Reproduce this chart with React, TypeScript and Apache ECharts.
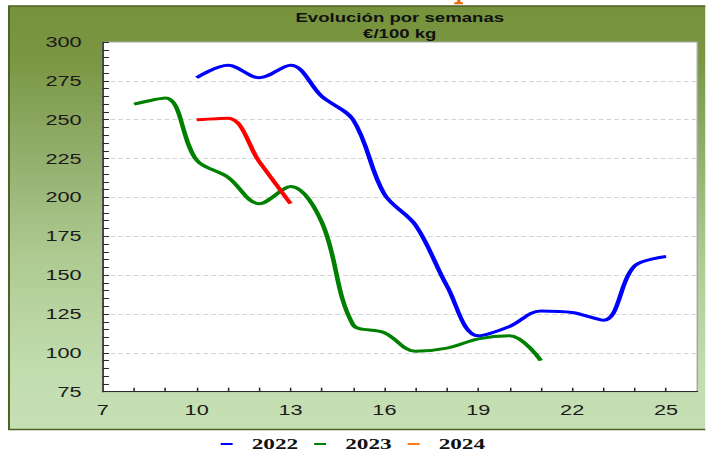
import React, { useEffect, useRef } from "react";
import * as echarts from "echarts";

// ---- data ----
const weeks2022 = [10, 11, 12, 13, 14, 15, 16, 17, 18, 19, 20, 21, 22, 23, 24, 25];
const values2022 = [277, 285, 277, 285, 265, 250, 202, 182, 143, 111, 117, 127, 126, 121, 156, 162];
const weeks2023 = [8, 9, 10, 11, 12, 13, 14, 15, 16, 17, 18, 19, 20, 21];
const values2023 = [260, 264, 224, 213, 196, 207, 184, 118, 113, 101, 103, 109, 111, 95];
const weeks2024 = [10, 11, 12, 13];
const values2024 = [250, 251, 223, 196];
const seriesNames = ["2022", "2023", "2024"];
const xLabelValues = [7, 10, 13, 16, 19, 22, 25];
const xTickValues = [8, 9, 10, 11, 12, 13, 14, 15, 16, 17, 18, 19, 20, 21, 22, 23, 24, 25];
const xMin = 7;
const xMax = 26;
const yMin = 75;
const yMax = 300;
const yStep = 25;
const titleLines = ["Evolución por semanas", "€/100 kg"];

// the reference is horizontally stretched
const S = 1.55;
const W = 706 / S;
const H = 452;

const pairs = (xs: number[], ys: number[]) => xs.map((x, i) => [x, ys[i]]);

export default function App() {
  const ref = useRef<HTMLDivElement>(null);
  useEffect(() => {
    if (!ref.current) return;
    const chart = echarts.init(ref.current, undefined, { renderer: "svg" });
    const axisColor = "#2a2a2a";
    const labelFont = { fontFamily: "Liberation Sans, Arial, sans-serif", fontSize: 14, color: "#1a1a1a" };
    const lineSeries = (name: string, data: number[][], color: string) => ({
      name,
      type: "line",
      data,
      smooth: 0.35,
      showSymbol: false,
      symbol: "none",
      lineStyle: { color, width: 3 },
      itemStyle: { color },
      z: 3,
    });
    chart.setOption({
      animation: false,
      graphic: [
        {
          type: "polygon",
          z: -20,
          silent: true,
          shape: {
            points: [
              [295, 0],
              [297, 0],
              [297, 2],
              [298.7, 2.6],
              [298.7, 4.3],
              [293, 4.3],
              [293, 2.6],
              [295, 2],
            ],
          },
          style: { fill: "#e46c0a" },
        },
        {
          type: "rect",
          z: -10,
          silent: true,
          shape: { x: 5.8, y: 6, width: 470, height: 423.5 },
          style: {
            fill: new echarts.graphic.LinearGradient(0, 0, 0, 1, [
              { offset: 0, color: "#76923c" },
              { offset: 0.12, color: "#7a9642" },
              { offset: 0.35, color: "#92ae6c" },
              { offset: 0.6, color: "#afcb93" },
              { offset: 0.85, color: "#c1dcad" },
              { offset: 1, color: "#c6e0b5" },
            ]),
            stroke: "#4f6228",
            lineWidth: 1.3,
          },
        },
        {
          type: "text",
          x: 257.9,
          y: 10.25,
          z: 10,
          style: {
            text: titleLines.join("\n"),
            font: 'bold 12px "Liberation Sans", Arial, sans-serif',
            lineHeight: 15.5,
            fill: "#111",
            textAlign: "center",
            textVerticalAlign: "top",
          },
        },
      ],
      grid: {
        left: 66.3,
        top: 42,
        width: 383.6,
        height: 349.7,
        show: true,
        backgroundColor: "#ffffff",
        borderColor: "#a6a6a6",
        borderWidth: 1,
        containLabel: false,
      },
      legend: {
        data: [
          { name: seriesNames[0], itemStyle: { color: "#0000ff" } },
          { name: seriesNames[1], itemStyle: { color: "#008000" } },
          { name: seriesNames[2], itemStyle: { color: "#ff7a1a" } },
        ],
        left: 142.4,
        top: 436.5,
        padding: 0,
        icon: "rect",
        itemWidth: 7.7,
        itemHeight: 2,
        itemGap: 10.3,
        textStyle: {
          fontFamily: "Liberation Serif, serif",
          fontWeight: "bold",
          fontSize: 15,
          lineHeight: 15,
          color: "#111",
          padding: [0, 0, 0, 7.3],
        },
      },
      xAxis: {
        type: "value",
        min: xMin,
        max: xMax,
        axisLine: { show: true, onZero: false, lineStyle: { color: axisColor, width: 1 } },
        axisTick: {
          show: true,
          inside: true,
          length: 4,
          customValues: xTickValues,
          lineStyle: { color: axisColor },
        },
        axisLabel: { ...labelFont, margin: 11, customValues: xLabelValues },
        splitLine: { show: false },
      },
      yAxis: {
        type: "value",
        min: yMin,
        max: yMax,
        interval: yStep,
        axisLine: { show: true, onZero: false, lineStyle: { color: axisColor, width: 1 } },
        axisTick: { show: true, inside: true, length: 4, lineStyle: { color: axisColor } },
        minorTick: { show: true, splitNumber: 5, length: 4, lineStyle: { color: axisColor } },
        axisLabel: { ...labelFont, margin: 13.6 },
        splitLine: { show: true, lineStyle: { color: "#d3d3d3", width: 1, type: [3, 2] } },
      },
      series: [
        lineSeries(seriesNames[0], pairs(weeks2022, values2022), "#0000ff"),
        lineSeries(seriesNames[1], pairs(weeks2023, values2023), "#008000"),
        lineSeries(seriesNames[2], pairs(weeks2024, values2024), "#ff0000"),
      ],
    });
    return () => chart.dispose();
  }, []);
  return (
    <div
      style={{
        position: "absolute",
        left: 0,
        top: 0,
        width: W,
        height: H,
        transform: `scaleX(${S})`,
        transformOrigin: "0 0",
        overflow: "hidden",
      }}
    >
      <div ref={ref} style={{ width: W, height: H }} />
    </div>
  );
}
